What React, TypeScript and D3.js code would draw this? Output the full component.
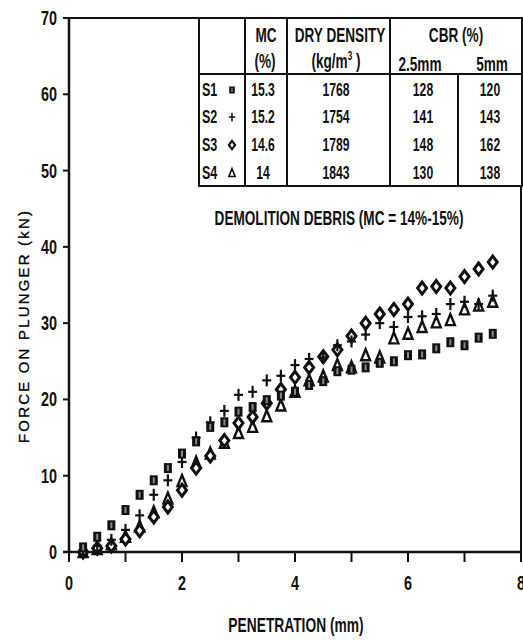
import React from 'react';
import * as d3 from 'd3';

const penetration = [0.25, 0.5, 0.75, 1.0, 1.25, 1.5, 1.75, 2.0, 2.25, 2.5, 2.75, 3.0, 3.25, 3.5, 3.75, 4.0, 4.25, 4.5, 4.75, 5.0, 5.25, 5.5, 5.75, 6.0, 6.25, 6.5, 6.75, 7.0, 7.25, 7.5];
const s1Force = [0.6, 2.0, 3.5, 5.5, 7.5, 9.4, 11.0, 12.9, 14.5, 16.4, 17.0, 18.4, 19.0, 19.9, 20.5, 21.0, 21.9, 22.4, 23.7, 23.9, 24.2, 24.8, 25.0, 25.8, 25.9, 26.7, 27.5, 27.1, 28.1, 28.6];
const s2Force = [0.2, 0.8, 1.6, 2.9, 4.8, 7.5, 9.4, 11.8, 15.0, 17.0, 18.5, 20.6, 21.0, 22.5, 23.1, 24.5, 25.3, 25.5, 27.1, 27.6, 28.5, 30.0, 29.5, 30.8, 30.9, 31.2, 32.5, 32.8, 32.5, 33.6];
const s3Force = [0.0, 0.5, 0.8, 1.7, 2.8, 4.6, 5.9, 8.1, 11.0, 12.6, 14.6, 16.9, 17.7, 19.5, 21.3, 22.9, 24.2, 25.6, 26.5, 28.3, 30.0, 31.2, 31.8, 32.5, 34.6, 34.8, 34.6, 36.1, 37.1, 38.0];
const s4Force = [0.0, 0.4, 1.0, 2.0, 3.3, 5.2, 7.0, 9.3, 11.7, 12.9, 14.3, 15.6, 16.4, 17.8, 19.2, 21.0, 22.5, 23.0, 24.5, 24.2, 25.8, 25.5, 28.0, 28.6, 29.5, 30.1, 30.4, 31.8, 32.3, 32.8];

const xTicks = [0, 1, 2, 3, 4, 5, 6, 7, 8];
const xTickLabels = [0, 2, 4, 6, 8];
const yTicks = [0, 10, 20, 30, 40, 50, 60, 70];

const sampleIds = ['S1', 'S2', 'S3', 'S4'];
const sampleMarkers = ['square', 'plus', 'diamond', 'triangle'];
const mcValues = ['15.3', '15.2', '14.6', '14'];
const dryDensity = ['1768', '1754', '1789', '1843'];
const cbr25 = ['128', '141', '148', '130'];
const cbr5 = ['120', '143', '162', '138'];

const FONT = "'Liberation Sans', Arial, sans-serif";

function CText({
  x,
  y,
  anchor = 'start',
  size = 16,
  squeeze = 0.68,
  children,
}: {
  x: number;
  y: number;
  anchor?: string;
  size?: number;
  squeeze?: number;
  children: React.ReactNode;
}) {
  return (
    <text
      transform={`translate(${x},${y}) scale(${squeeze},1)`}
      textAnchor={anchor}
      fontSize={size}
      fontWeight="bold"
      fill="#111"
      fontFamily={FONT}
    >
      {children}
    </text>
  );
}

function Marker({ kind, cx, cy }: { kind: string; cx: number; cy: number }) {
  if (kind === 'square') {
    return (
      <g>
        <rect x={cx - 4} y={cy - 5} width={8} height={10} fill="#111" />
        <rect x={cx - 1} y={cy - 3} width={2} height={6} fill="#888" />
      </g>
    );
  }
  if (kind === 'plus') {
    return (
      <g stroke="#111" strokeWidth={2.2}>
        <line x1={cx - 4.5} x2={cx + 4.5} y1={cy} y2={cy} />
        <line x1={cx} x2={cx} y1={cy - 6} y2={cy + 6} />
      </g>
    );
  }
  if (kind === 'diamond') {
    return (
      <path
        d={`M${cx},${cy - 6}L${cx + 4.5},${cy}L${cx},${cy + 6}L${cx - 4.5},${cy}Z`}
        fill="#fff"
        stroke="#111"
        strokeWidth={3}
      />
    );
  }
  return (
    <path
      d={`M${cx},${cy - 6}L${cx + 4.5},${cy + 5}L${cx - 4.5},${cy + 5}Z`}
      fill="#fff"
      stroke="#111"
      strokeWidth={2.4}
    />
  );
}

export default function App() {
  const width = 523;
  const height = 641;
  const x = d3.scaleLinear().domain([0, 8]).range([69, 521]);
  const y = d3.scaleLinear().domain([0, 70]).range([552, 18]);

  const series = [
    { kind: 'triangle', values: s4Force },
    { kind: 'diamond', values: s3Force },
    { kind: 'plus', values: s2Force },
    { kind: 'square', values: s1Force },
  ];

  // table geometry
  const tL = 199, tR = 522, tT = 18, tB = 186, tH = 74;
  const cMC = 245, cDD = 287, cCBR = 390, c5 = 458;
  const rowY = [96, 123, 151, 179];

  return (
    <svg
      width={width}
      height={height}
      style={{ position: 'absolute', left: 0, top: 0, background: '#fff' }}
      fontFamily={FONT}
    >
      <rect x={0} y={0} width={width} height={height} fill="#fff" />

      {/* frame */}
      <line x1={x(0)} x2={x(0)} y1={y(70)} y2={y(0)} stroke="#111" strokeWidth={2.5} />
      <line x1={x(0)} x2={x(8)} y1={y(70)} y2={y(70)} stroke="#111" strokeWidth={2} />
      <line x1={x(8)} x2={x(8)} y1={y(70)} y2={y(0)} stroke="#111" strokeWidth={2} />
      <line x1={x(0) - 6} x2={x(8)} y1={y(0)} y2={y(0)} stroke="#111" strokeWidth={2.5} />

      {/* x ticks */}
      {xTicks.map((t) => (
        <line key={'xt' + t} x1={x(t)} x2={x(t)} y1={y(0)} y2={y(0) + 10} stroke="#111" strokeWidth={2} />
      ))}
      {xTickLabels.map((t) => (
        <CText key={'xl' + t} x={x(t)} y={590} anchor="middle" size={20} squeeze={0.72}>
          {t}
        </CText>
      ))}

      {/* y ticks */}
      {yTicks.map((t) => (
        <g key={'yt' + t}>
          <line x1={x(0) - 6} x2={x(0)} y1={y(t)} y2={y(t)} stroke="#111" strokeWidth={2} />
          <CText x={57} y={y(t) + 7} anchor="end" size={20} squeeze={0.72}>
            {t}
          </CText>
        </g>
      ))}

      {/* axis titles */}
      <text
        transform={`translate(29,327) rotate(-90)`}
        textAnchor="middle"
        fontFamily={FONT}
        fontSize={15}
        textLength={232}
        lengthAdjust="spacing"
        fill="#000"
        stroke="#000"
        strokeWidth={0.3}
      >
        FORCE ON PLUNGER (kN)
      </text>
      <CText x={296} y={632} anchor="middle" size={20} squeeze={0.69}>
        PENETRATION (mm)
      </CText>

      {/* data */}
      {series.map((s) => (
        <g key={s.kind}>
          {s.values.map((v, i) => (
            <Marker key={i} kind={s.kind} cx={x(penetration[i])} cy={y(v)} />
          ))}
        </g>
      ))}

      {/* table */}
      <g stroke="#111" strokeWidth={2} fill="none">
        <rect x={tL} y={tT} width={tR - tL} height={tB - tT} fill="#fff" />
        <line x1={tL} x2={tR} y1={tH} y2={tH} />
        <line x1={cMC} x2={cMC} y1={tT} y2={tB} />
        <line x1={cDD} x2={cDD} y1={tT} y2={tB} />
        <line x1={cCBR} x2={cCBR} y1={tT} y2={tB} />
        <line x1={c5} x2={c5} y1={tH} y2={tB} />
      </g>
      <CText x={266} y={42} anchor="middle" size={20}>MC</CText>
      <CText x={265} y={68} anchor="middle" size={20}>(%)</CText>
      <CText x={340} y={42} anchor="middle" size={20}>DRY DENSITY</CText>
      <CText x={336} y={68} anchor="middle" size={20}>
        (kg/m<tspan dy={-8} fontSize={12}>3</tspan>
        <tspan dy={8}> )</tspan>
      </CText>
      <CText x={456} y={42} anchor="middle" size={20}>CBR (%)</CText>
      <CText x={420} y={71} anchor="middle" size={20}>2.5mm</CText>
      <CText x={492} y={71} anchor="middle" size={20}>5mm</CText>
      {sampleIds.map((id, i) => (
        <g key={id}>
          <CText x={202} y={rowY[i]} size={19} squeeze={0.66}>{id}</CText>
          <CText x={263} y={rowY[i]} anchor="middle" size={19} squeeze={0.64}>{mcValues[i]}</CText>
          <CText x={336} y={rowY[i]} anchor="middle" size={19} squeeze={0.64}>{dryDensity[i]}</CText>
          <CText x={423} y={rowY[i]} anchor="middle" size={19} squeeze={0.64}>{cbr25[i]}</CText>
          <CText x={490} y={rowY[i]} anchor="middle" size={19} squeeze={0.64}>{cbr5[i]}</CText>
        </g>
      ))}
      {sampleMarkers.map((m, i) => (
        <g key={m} transform={`translate(232,${rowY[i] - 6}) scale(0.7)`}>
          <Marker kind={m} cx={0} cy={0} />
        </g>
      ))}

      <CText x={339} y={225} anchor="middle" size={20} squeeze={0.68}>
        DEMOLITION DEBRIS (MC = 14%-15%)
      </CText>
    </svg>
  );
}
